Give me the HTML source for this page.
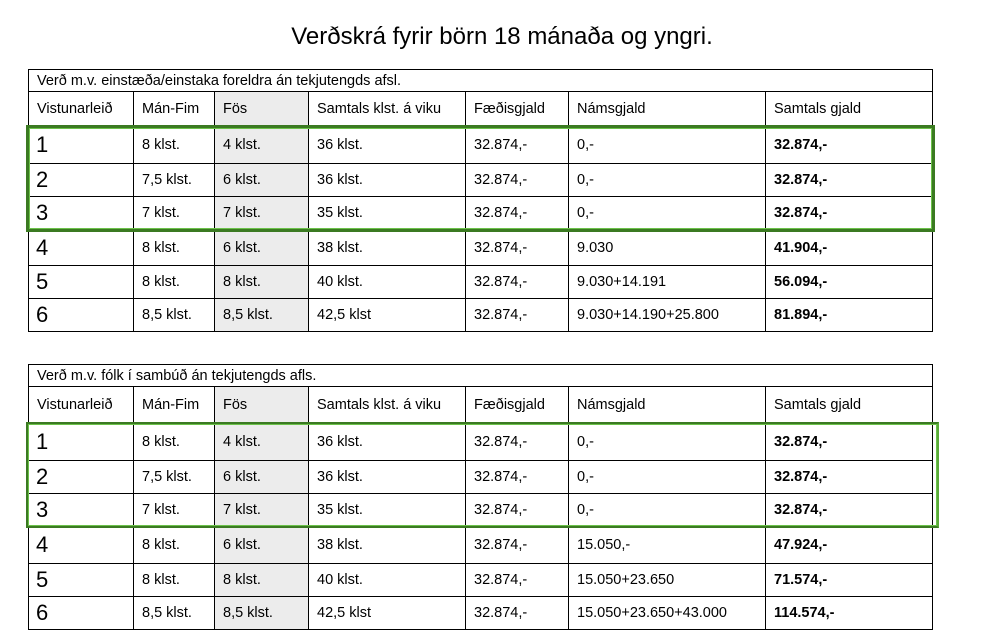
<!DOCTYPE html>
<html><head><meta charset="utf-8"><style>
body{margin:0;width:988px;height:629px;background:#fff;overflow:hidden;position:relative;font-family:"Liberation Sans",sans-serif;color:#000}
.title{position:absolute;left:0;width:1004px;top:23px;text-align:center;font-size:24px}
table{position:absolute;left:28px;border-collapse:collapse;table-layout:fixed;width:904px}
td{border:1px solid #000;padding:0 0 0 8px;font-size:14.5px;white-space:nowrap;overflow:hidden;vertical-align:middle}
td.n{font-size:22px;padding-left:7px}
td.g{background:#ececec}
td.b{font-weight:bold}
.box{position:absolute;box-sizing:border-box}
</style></head><body>
<div class="title">Verðskrá fyrir börn 18 mánaða og yngri.</div>

<table style="top:69px">
<colgroup><col style="width:105px"><col style="width:81px"><col style="width:94px"><col style="width:157px"><col style="width:103px"><col style="width:197px"><col style="width:167px"></colgroup>
<tr style="height:22px"><td colspan="7">Verð m.v. einstæða/einstaka foreldra án tekjutengds afsl.</td></tr>
<tr style="height:35px"><td>Vistunarleið</td><td>Mán-Fim</td><td class="g">Fös</td><td>Samtals klst. á viku</td><td>Fæðisgjald</td><td>Námsgjald</td><td>Samtals gjald</td></tr>
<tr style="height:37px"><td class="n">1</td><td>8 klst.</td><td class="g">4 klst.</td><td>36 klst.</td><td>32.874,-</td><td>0,-</td><td class="b">32.874,-</td></tr>
<tr style="height:33px"><td class="n">2</td><td>7,5 klst.</td><td class="g">6 klst.</td><td>36 klst.</td><td>32.874,-</td><td>0,-</td><td class="b">32.874,-</td></tr>
<tr style="height:33px"><td class="n">3</td><td>7 klst.</td><td class="g">7 klst.</td><td>35 klst.</td><td>32.874,-</td><td>0,-</td><td class="b">32.874,-</td></tr>
<tr style="height:36px"><td class="n">4</td><td>8 klst.</td><td class="g">6 klst.</td><td>38 klst.</td><td>32.874,-</td><td>9.030</td><td class="b">41.904,-</td></tr>
<tr style="height:33px"><td class="n">5</td><td>8 klst.</td><td class="g">8 klst.</td><td>40 klst.</td><td>32.874,-</td><td>9.030+14.191</td><td class="b">56.094,-</td></tr>
<tr style="height:33px"><td class="n">6</td><td>8,5 klst.</td><td class="g">8,5 klst.</td><td>42,5 klst</td><td>32.874,-</td><td>9.030+14.190+25.800</td><td class="b">81.894,-</td></tr>
</table>

<table style="top:364px">
<colgroup><col style="width:105px"><col style="width:81px"><col style="width:94px"><col style="width:157px"><col style="width:103px"><col style="width:197px"><col style="width:167px"></colgroup>
<tr style="height:22px"><td colspan="7">Verð m.v. fólk í sambúð án tekjutengds afls.</td></tr>
<tr style="height:37px"><td>Vistunarleið</td><td>Mán-Fim</td><td class="g">Fös</td><td>Samtals klst. á viku</td><td>Fæðisgjald</td><td>Námsgjald</td><td>Samtals gjald</td></tr>
<tr style="height:37px"><td class="n">1</td><td>8 klst.</td><td class="g">4 klst.</td><td>36 klst.</td><td>32.874,-</td><td>0,-</td><td class="b">32.874,-</td></tr>
<tr style="height:33px"><td class="n">2</td><td>7,5 klst.</td><td class="g">6 klst.</td><td>36 klst.</td><td>32.874,-</td><td>0,-</td><td class="b">32.874,-</td></tr>
<tr style="height:33px"><td class="n">3</td><td>7 klst.</td><td class="g">7 klst.</td><td>35 klst.</td><td>32.874,-</td><td>0,-</td><td class="b">32.874,-</td></tr>
<tr style="height:37px"><td class="n">4</td><td>8 klst.</td><td class="g">6 klst.</td><td>38 klst.</td><td>32.874,-</td><td>15.050,-</td><td class="b">47.924,-</td></tr>
<tr style="height:33px"><td class="n">5</td><td>8 klst.</td><td class="g">8 klst.</td><td>40 klst.</td><td>32.874,-</td><td>15.050+23.650</td><td class="b">71.574,-</td></tr>
<tr style="height:33px"><td class="n">6</td><td>8,5 klst.</td><td class="g">8,5 klst.</td><td>42,5 klst</td><td>32.874,-</td><td>15.050+23.650+43.000</td><td class="b">114.574,-</td></tr>
</table>

<div class="box" style="left:26px;top:125px;width:909px;height:107px;border:3px solid #3b7a22;box-shadow:inset 0 0 0 1px #6cc24a"></div>
<div class="box" style="left:26px;top:422px;width:913px;height:106px;border:2px solid #3b7a22;border-right-color:#5aaa3a;box-shadow:inset 0 0 0 1px #6cc24a"></div>
</body></html>
